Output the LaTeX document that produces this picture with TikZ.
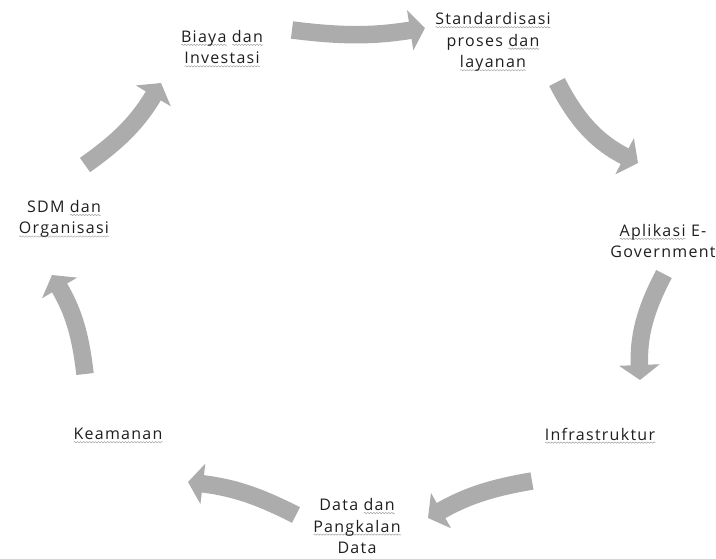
\documentclass[tikz,border=0pt]{standalone}
\usepackage{fontspec}
\setmainfont{Open Sans}[LetterSpace=8]
\usetikzlibrary{arrows.meta,decorations.pathmorphing}

\definecolor{arrowgray}{RGB}{172,172,172}
\definecolor{labelgray}{RGB}{30,30,30}
\definecolor{wavegray}{RGB}{155,155,155}

% faint wavy underline (spell-check style)
\newsavebox\wavebox
\newcommand\sqw[1]{\sbox\wavebox{#1}\leavevmode
  \rlap{\raisebox{-3.5pt}[0pt][0pt]{\tikz[x=1pt,y=1pt]\draw[wavegray,line width=0.45pt,
    decorate,decoration={snake,amplitude=0.7pt,segment length=3pt}]
    (0pt,0pt)--(\wd\wavebox,0pt);}}\usebox\wavebox}

\tikzset{
  cyclearrow/.style={draw=arrowgray, line width=17.5pt,
    -{Triangle[width=40pt,length=15pt]}},
  stagelabel/.style={align=center, inner sep=0pt, text=labelgray,
    font=\fontsize{16}{21.5}\selectfont}
}

\begin{document}
\begin{tikzpicture}[x=1pt,y=-1pt]
\useasboundingbox (0,0) rectangle (716,558);

% stage labels
\node[stagelabel] (biaya) at (222,47) {\sqw{Biaya} \sqw{dan}\\ \sqw{Investasi}};
\node[stagelabel] (standar) at (493,42) {\sqw{Standardisasi}\\ proses \sqw{dan}\\ \sqw{layanan}};
\node[stagelabel] (aplikasi) at (663,241) {\sqw{Aplikasi} E-\\ Government};
\node[stagelabel] (infra) at (600,434) {\sqw{Infrastruktur}};
\node[stagelabel] (data) at (357,526) {Data \sqw{dan}\\ \sqw{Pangkalan}\\ Data};
\node[stagelabel] (keamanan) at (118,434) {\sqw{Keamanan}};
\node[stagelabel] (sdm) at (64,219) {SDM \sqw{dan}\\ \sqw{Organisasi}};

% arrow end points
\coordinate (a1s) at (292,30);  \coordinate (a1e) at (425,28);
\coordinate (a2s) at (557,82);  \coordinate (a2e) at (638,163);
\coordinate (a3s) at (664,274); \coordinate (a3e) at (640,380);
\coordinate (a4s) at (532,481); \coordinate (a4e) at (428,518);
\coordinate (a5s) at (296,515); \coordinate (a5e) at (188,482);
\coordinate (a6s) at (85,374);  \coordinate (a6e) at (52,275);
\coordinate (a7s) at (85,165);  \coordinate (a7e) at (161,83);

% cycle arrows, clockwise
\draw[cyclearrow] (a1s) to[bend right=8]  (a1e);
\draw[cyclearrow] (a2s) to[bend right=18] (a2e);
\draw[cyclearrow] (a3s) to[bend right=15] (a3e);
\draw[cyclearrow] (a4s) to[bend right=10] (a4e);
\draw[cyclearrow] (a5s) to[bend right=10] (a5e);
\draw[cyclearrow] (a6s) to[bend right=12] (a6e);
\draw[cyclearrow] (a7s) to[bend right=12] (a7e);
\end{tikzpicture}
\end{document}
